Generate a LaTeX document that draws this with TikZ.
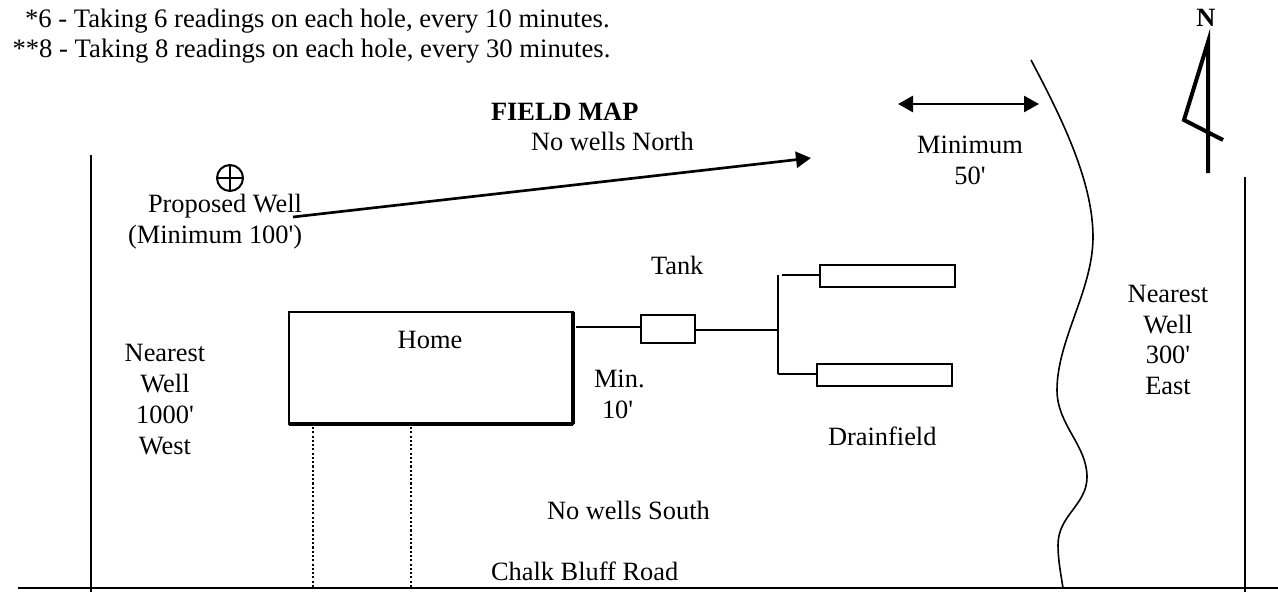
\documentclass[tikz,border=0pt]{standalone}
\usepackage{fontspec}
\newfontfamily\mapfont{Liberation Serif}
\usetikzlibrary{arrows.meta}
\tikzset{every picture/.style={line width=1.5pt}}
\tikzset{maptext/.style={inner sep=0pt,outer sep=0pt,font=\mapfont\fontsize{19.8}{23.2}\selectfont},
  notetext/.style={maptext,anchor=base west,font=\mapfont\fontsize{20}{23.2}\selectfont},
  boldtext/.style={maptext,font=\mapfont\bfseries\fontsize{19.8}{23.2}\selectfont},
  stacktext/.style={maptext,align=center},
  boxnode/.style={draw,inner sep=0pt,outer sep=0pt},
  fatline/.style={line width=2pt},
  houseline/.style={line width=3.2pt},
  lotline/.style={line width=1.2pt,dash pattern=on 1.6pt off 1.6pt},
  riverline/.style={line width=1.2pt},
  headtip/.tip={Triangle[length=11.25pt,width=12pt]}}

\begin{document}
\begin{tikzpicture}[x=0.75pt,y=0.75pt,yscale=-1,xscale=1]
\useasboundingbox (0,0) rectangle (1278,592);

%Shape: Rectangle
\node [boxnode,anchor=north west,minimum width=213pt,minimum height=84pt] (home) at (289,312) {};
\node [boxnode,anchor=north west,minimum width=40.5pt,minimum height=21pt] (tank) at (641,315) {};
\node [boxnode,anchor=north west,minimum width=101.25pt,minimum height=16.5pt] (drainA) at (820,265) {};
\node [boxnode,anchor=north west,minimum width=101.25pt,minimum height=16.5pt] (drainB) at (817,364) {};
%Flowchart: Or
\node [draw,circle,inner sep=0pt,outer sep=0pt,minimum size=19.5pt] (well) at (230,178) {};
\draw (well.west) -- (well.east) ;
\draw (well.north) -- (well.south) ;

\coordinate (homeOut) at (576,327);
\coordinate (tankOut) at (695,330);
\coordinate (junTop) at (778,275);
\coordinate (junBot) at (778,374);
\coordinate (branchTop) at (782,275);
\coordinate (roadW) at (18,588);
\coordinate (roadE) at (1278,588);
\coordinate (westTop) at (91,155);
\coordinate (westBot) at (91,592);
\coordinate (eastTop) at (1245,177);
\coordinate (eastBot) at (1245,592);
\coordinate (dotA) at (313,427);
\coordinate (dotB) at (411,427);
\coordinate (northFrom) at (293,217);
\coordinate (northTo) at (811,158);
\coordinate (gapW) at (898,104);
\coordinate (gapE) at (1039,104);
\coordinate (needleTop) at (1208,42);
\coordinate (needleBot) at (1208,173);
\coordinate (needleBack) at (1184,120);
\coordinate (needleEnd) at (1223,140);

%Straight Lines
\draw (roadW) -- (roadE) ;
\draw (westTop) -- (westBot) ;
\draw (eastTop) -- (eastBot) ;
\draw [houseline] (home.north east) -- (home.south east) ;
\draw [houseline] (home.south west) -- (home.south east) ;
\draw (homeOut) -- (homeOut -| tank.west) ;
\draw (tankOut) -- (tankOut -| junTop) ;
\draw (junTop) -- (junBot) ;
\draw (branchTop) -- (branchTop -| drainA.west) ;
\draw (junBot) -- (junBot -| drainB.west) ;
\draw [lotline] (dotA) -- (dotA |- roadW) ;
\draw [lotline] (dotB) -- (dotB |- roadW) ;

%Straight Lines
\draw [-headtip,fatline] (northFrom) -- (northTo) ;
\draw [headtip-headtip,fatline] (gapW) -- (gapE) ;
\draw [line width=3pt,line join=miter] (needleBot) -- (needleTop) -- (needleBack) -- (needleEnd) ;

%Curve Lines
\draw [riverline] (1031,60) .. controls (1060,115) and (1093,180) .. (1093,237) .. controls (1093,290) and (1057,340) .. (1057,390) .. controls (1057,425) and (1087,445) .. (1087,477) .. controls (1087,505) and (1058,515) .. (1058,545) .. controls (1058,560) and (1061,575) .. (1063,588) ;

% Text Node
\node [notetext] (noteA) at (25,28) {*6 - Taking 6 readings on each hole, every 10 minutes.};
\node [notetext] (noteB) at (12.5,58) {**8 - Taking 8 readings on each hole, every 30 minutes.};
\node [boldtext,anchor=base] (northMark) at (1206,27) {N};
\node [boldtext,anchor=base west] (title) at (491,121) {FIELD MAP};
\node [maptext,anchor=base west] (noNorth) at (531,151) {No wells North};
\node [maptext,anchor=base west] (propA) at (148,212) {Proposed Well};
\node [maptext,anchor=base west] (propB) at (128,243) {(Minimum 100')};
\node [maptext,anchor=base] (homeText) at (430,348) {Home};
\node [maptext,anchor=base west] (tankText) at (651,274) {Tank};
\node [maptext,anchor=base west] (drainText) at (828,445) {Drainfield};
\node [maptext,anchor=base west] (minA) at (594,387) {Min.};
\node [maptext,anchor=base west] (minB) at (602,418) {10'};
\node [stacktext] (gapText) at (970,160) {Minimum\\50'};
\node [stacktext] (westText) at (165,399.5) {Nearest\\Well\\1000'\\West};
\node [stacktext] (eastText) at (1168,340) {Nearest\\Well\\300'\\East};
\node [maptext,anchor=base west] (noSouth) at (547,519) {No wells South};
\node [maptext,anchor=base west] (roadText) at (491,580) {Chalk Bluff Road};

\end{tikzpicture}
\end{document}
